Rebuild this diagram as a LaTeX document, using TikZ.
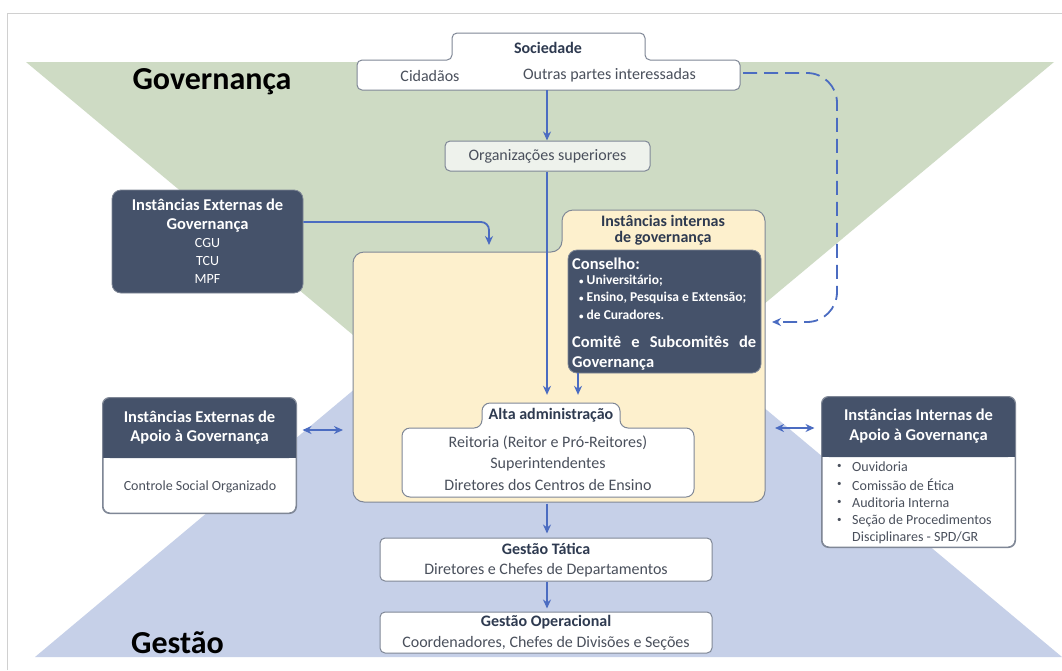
\documentclass[tikz,border=0pt]{standalone}
\usepackage{fontspec}
\setmainfont{Carlito}
\usetikzlibrary{arrows.meta,calc}
\definecolor{govg}{HTML}{CEDBC4}
\definecolor{gesb}{HTML}{C6D0E8}
\definecolor{yelf}{HTML}{FDF0CD}
\definecolor{slate}{HTML}{45526A}
\definecolor{arrb}{HTML}{4B6CC1}
\definecolor{bord}{HTML}{7F8796}
\definecolor{txt}{HTML}{4A505C}
\definecolor{navy}{HTML}{2E3A50}
\definecolor{orgf}{HTML}{EEF2EC}
\definecolor{framec}{HTML}{D0D0D0}
\newcommand{\smbul}{{\fontsize{9}{9}\selectfont\raisebox{0.5pt}{•}}\hspace{3pt}}
\begin{document}
\begin{tikzpicture}[x=1pt,y=-1pt,
  box/.style={draw=bord, line width=1pt, fill=white, rounded corners=5},
  dbox/.style={draw=bord, line width=0.8pt, fill=slate, rounded corners=9},
  inv/.style={inner sep=0pt, outer sep=0pt},
  t/.style={inner sep=0pt, text=txt, font=\fontsize{16}{19}\selectfont},
  ts/.style={inner sep=0pt, text=txt, font=\fontsize{14}{17}\selectfont},
  tb/.style={inner sep=0pt, text=navy, font=\fontsize{16}{19}\selectfont\bfseries},
  wb/.style={inner sep=0pt, text=white, font=\fontsize{16.5}{19}\selectfont\bfseries},
  ws/.style={inner sep=0pt, text=white, font=\fontsize{14}{17}\selectfont},
  wbs/.style={inner sep=0pt, text=white, font=\fontsize{13.5}{16}\selectfont\bfseries},
  arr/.style={draw=arrb, line width=1.8pt, -{Stealth[length=9pt,width=8pt]}},
  darr/.style={draw=arrb, line width=1.8pt, {Stealth[length=9pt,width=8pt]}-{Stealth[length=9pt,width=8pt]}},
  dasharr/.style={arr, dash pattern=on 14pt off 7pt}
]
\useasboundingbox (0,0) rectangle (1062,670);
\fill[white] (0,0) rectangle (1062,670);
\draw[framec, line width=1.5pt] (7.5,670) -- (7.5,13.5) -- (1062,13.5);
% background triangles
\fill[gesb] (35,657) -- (1062,657) -- (548,227) -- cycle;
\fill[govg] (26,62) -- (1054,62) -- (540,491) -- cycle;
% titles
\node[inner sep=0pt, font=\fontsize{32}{32}\selectfont\bfseries] (govt) at (212,82) {Governança};
\node[inner sep=0pt, font=\fontsize{32}{32}\selectfont\bfseries] (gest) at (177.5,643) {Gestão};
% Sociedade
\draw[box] (357,60) -- (452,60) -- (452,33) -- (645,33) -- (645,60) -- (740,60) -- (740,90) -- (357,90) -- cycle;
\node[inv, minimum width=383pt, minimum height=30pt] (socbox) at (548.5,75) {};
\node[tb] (soc) at (548,47.5) {Sociedade};
\node[t] (cid) at (430,75.5) {Cidadãos};
\node[t] (out) at (609.5,75.5) {Outras partes interessadas};
% Organizacoes superiores
\node[box, fill=orgf, t, minimum width=205pt, minimum height=30pt] (org) at (547.5,156) {Organizações superiores};
% yellow internal area
\draw[draw=bord, fill=yelf, line width=1pt, rounded corners=11] (353,252) -- (562,252) -- (562,210) -- (765,210) -- (765,502) -- (353,502) -- cycle;
\node[inv, minimum width=412pt, minimum height=250pt] (yel) at (559,377) {};
\node[tb, align=center, font=\fontsize{16}{15.5}\selectfont\bfseries] (iig) at (663,230) {Instâncias internas\\de governança};
% Conselho
\node[dbox, minimum width=193pt, minimum height=123pt] (cons) at (664.5,311.5) {};
\node[wb, anchor=west] (conh) at (572,264) {Conselho:};
\node[wbs, anchor=west] (c1) at (579,281) {\smbul Universitário;};
\node[wbs, anchor=west] (c2) at (579,298) {\smbul Ensino, Pesquisa e Extensão;};
\node[wbs, anchor=west] (c3) at (579,315) {\smbul de Curadores.};
\node[wb, anchor=west] (com1) at (572,342) {\makebox[184pt][s]{Comitê e Subcomitês de}};
\node[wb, anchor=west] (com2) at (572,363) {Governança};
% Alta administracao
\draw[box, rounded corners=8] (402,428) -- (482,428) -- (482,403) -- (620,403) -- (620,428) -- (694,428) -- (694,497) -- (402,497) -- cycle;
\node[tb, minimum width=138pt, minimum height=25pt] (altatab) at (551,415.5) {Alta administração};
\node[t, align=center, font=\fontsize{16}{21.5}\selectfont, minimum width=292pt, minimum height=69pt] (alta) at (548,463) {Reitoria (Reitor e Pró-Reitores)\\Superintendentes\\Diretores dos Centros de Ensino};
% Gestao tatica / operacional
\node[box, minimum width=332pt, minimum height=43pt] (tat) at (546,559.5) {};
\node[tb] (tat1) at (546,549) {Gestão Tática};
\node[t] (tat2) at (546,570) {Diretores e Chefes de Departamentos};
\node[box, minimum width=332pt, minimum height=41pt] (oper) at (546,632.5) {};
\node[tb] (op1) at (546,622) {Gestão Operacional};
\node[t] (op2) at (546,643) {Coordenadores, Chefes de Divisões e Seções};
% Instancias externas de governanca
\node[dbox, minimum width=191pt, minimum height=103pt] (extgov) at (207.5,241.5) {};
\node[wb] (eg1) at (207.5,205) {Instâncias Externas de};
\node[wb] (eg2) at (207.5,225) {Governança};
\node[ws] (eg3) at (207.5,243) {CGU};
\node[ws] (eg4) at (207.5,261) {TCU};
\node[ws] (eg5) at (207.5,279) {MPF};
% Instancias externas de apoio
\node[box, rounded corners=7, minimum width=193pt, minimum height=115pt] (extap) at (199.5,455.5) {};
\fill[slate, rounded corners=7] (103,398) rectangle (296,458);
\fill[slate] (103,440) rectangle (296,458);
\draw[bord, line width=1pt, rounded corners=7] (extap.north west) rectangle (extap.south east);
\node[wb] (ea1) at (199.5,417) {Instâncias Externas de};
\node[wb] (ea2) at (199.5,437) {Apoio à Governança};
\node[ts] (ea3) at (200,487) {Controle Social Organizado};
% Instancias internas de apoio
\node[box, rounded corners=7, minimum width=193pt, minimum height=150pt] (intap) at (918.5,472) {};
\fill[slate, rounded corners=7] (822,397) rectangle (1015,457);
\fill[slate] (822,440) rectangle (1015,457);
\draw[bord, line width=1pt, rounded corners=7] (intap.north west) rectangle (intap.south east);
\node[wb] (ia1) at (918.5,415) {Instâncias Internas de};
\node[wb] (ia2) at (918.5,436) {Apoio à Governança};
\node[ts, anchor=west] (b1) at (837,467) {\smbul};
\node[ts, anchor=west] (b2) at (837,485) {\smbul};
\node[ts, anchor=west] (b3) at (837,503) {\smbul};
\node[ts, anchor=west] (b4) at (837,521) {\smbul};
\node[ts, anchor=west] (i1) at (852,467) {Ouvidoria};
\node[ts, anchor=west] (i2) at (852,485) {Comissão de Ética};
\node[ts, anchor=west] (i3) at (852,503) {Auditoria Interna};
\node[ts, anchor=west] (i4) at (852,521) {Seção de Procedimentos};
\node[ts, anchor=west] (i5) at (852,538) {Disciplinares - SPD/GR};
% connectors
\draw[arr] ([xshift=-1.5pt]socbox.south) -- ([xshift=-0.5pt]org.north);
\draw[arr] ([xshift=-0.5pt]org.south) -- ([xshift=-4pt,yshift=8pt]altatab.north);
\draw[arr] ([xshift=-86.5pt]cons.south) -- ([xshift=27pt,yshift=8pt]altatab.north);
\draw[arr, rounded corners=8] ([yshift=19.5pt]extgov.east) -| ([xshift=-70pt,yshift=7pt]yel.north);
\draw[arr, shorten <=6pt, shorten >=4pt] ([xshift=-1pt]alta.south) -- ([xshift=1pt]tat.north);
\draw[arr, shorten >=3pt] ([xshift=1pt]tat.south) -- ([xshift=1pt]oper.north);
\draw[darr] ([xshift=6pt,yshift=25.5pt]extap.east) -- ([xshift=-10pt,yshift=-53pt]yel.west);
\draw[darr] ([xshift=10pt,yshift=-51pt]yel.east) -- ([xshift=-7pt,yshift=44pt]intap.west);
\draw[dasharr, rounded corners=30] ([xshift=3pt,yshift=2pt]socbox.east) -- ++(94,0) |- ([xshift=7pt,yshift=55pt]yel.east);
\end{tikzpicture}
\end{document}
